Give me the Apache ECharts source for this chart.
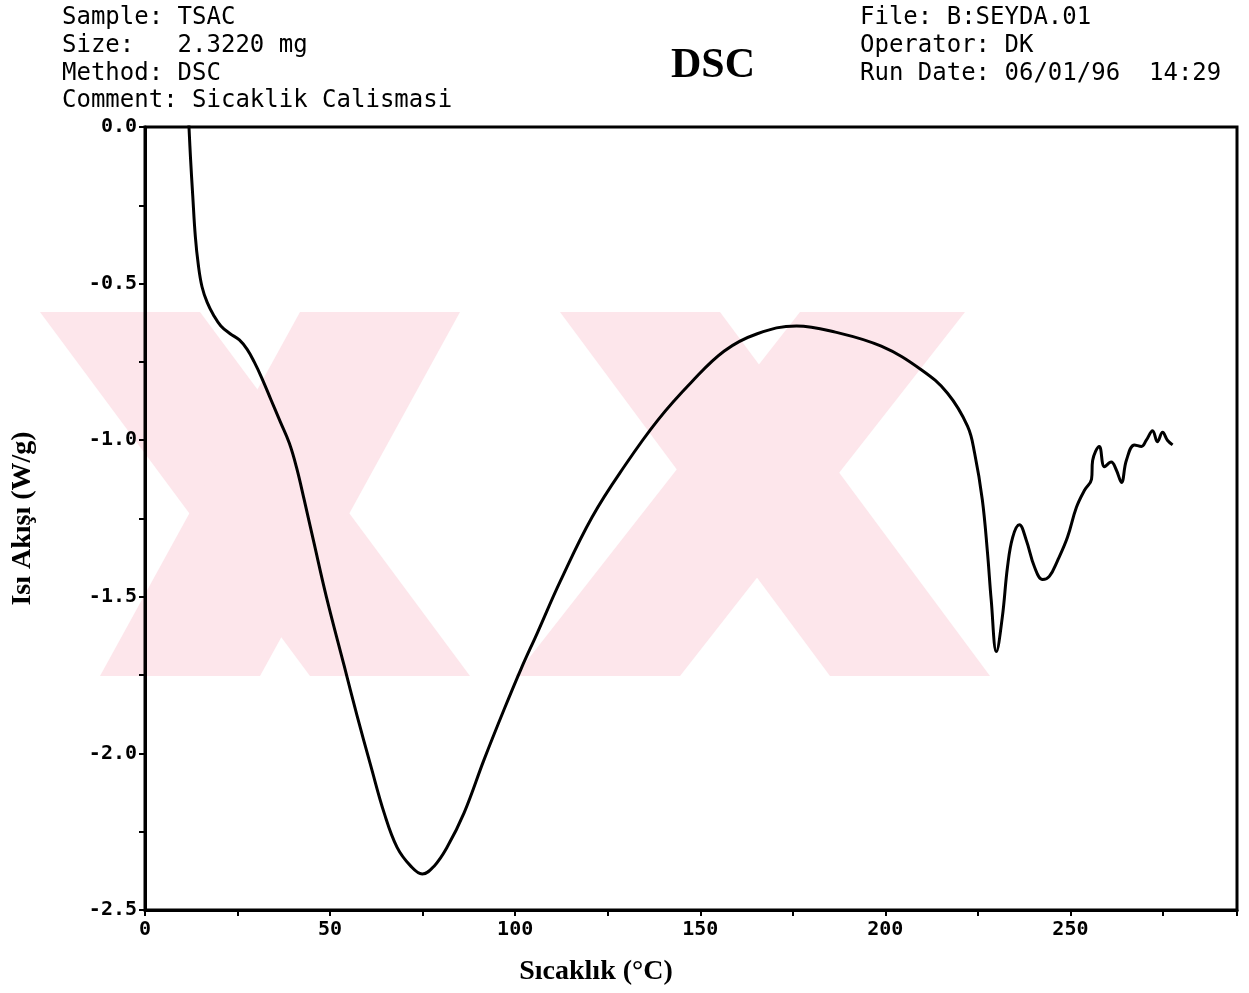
<!DOCTYPE html>
<html>
<head>
<meta charset="utf-8">
<script src="https://cdn.jsdelivr.net/npm/echarts@6/dist/echarts.min.js"></script>
<style>
  html, body { margin: 0; padding: 0; background: #ffffff; }
  #chart { width: 1249px; height: 993px; }
</style>
</head>
<body>
<div id="chart"></div>
<script>
// DSC thermogram: heat flow against temperature
const temperature = [
  11.8, 12.3, 12.9, 13.6, 14.4, 15.4, 16.8, 18.5, 20.5, 23.0, 25.5, 27.6, 29.5,
  31.5, 34.0, 36.5, 39.0, 41.0, 43.0, 45.5, 49.0, 53.8, 57.3, 61.0, 64.6, 68.1,
  71.8, 74.9, 78.1, 81.6, 86.2, 91.6, 97.0, 101.6, 106.0, 112.2, 120.8, 129.7,
  138.6, 147.6, 156.5, 165.4, 176.0, 186.5, 198.9, 209.7, 216.8, 222.2, 224.1,
  226.2, 227.6, 228.6, 230.0, 231.6, 233.0, 234.4, 236.2, 238.1, 240.3, 242.5,
  244.3, 246.5, 249.2, 251.6, 253.8, 255.7, 256.0, 257.8, 259.2, 261.0, 262.4,
  263.8, 265.1, 267.3, 269.2, 270.5, 272.2, 273.5, 274.9, 276.2, 277.6
];
const heatFlow = [
  0.02, -0.10, -0.22, -0.35, -0.44, -0.51, -0.56, -0.60, -0.635, -0.66, -0.68, -0.71, -0.75,
  -0.80, -0.87, -0.94, -1.01, -1.09, -1.19, -1.32, -1.50, -1.72, -1.88, -2.04, -2.19, -2.30,
  -2.36, -2.385, -2.36, -2.30, -2.19, -2.02, -1.86, -1.73, -1.615, -1.45, -1.245, -1.08,
  -0.935, -0.815, -0.715, -0.66, -0.635, -0.655, -0.70, -0.775, -0.85, -0.955, -1.04,
  -1.19, -1.36, -1.51, -1.675, -1.565, -1.405, -1.31, -1.27, -1.32, -1.405, -1.445,
  -1.435, -1.385, -1.31, -1.215, -1.16, -1.125, -1.065, -1.02, -1.085, -1.07, -1.095,
  -1.135, -1.065, -1.015, -1.02, -1.0, -0.97, -1.005, -0.975, -1.0, -1.015
];

// Header block printed by the instrument
const headerLeft = [
  'Sample: TSAC',
  'Size:   2.3220 mg',
  'Method: DSC',
  'Comment: Sicaklik Calismasi'
];
const headerRight = [
  'File: B:SEYDA.01',
  'Operator: DK',
  'Run Date: 06/01/96  14:29'
];

const titleText = 'DSC';
const xAxisTitle = 'Sıcaklık (°C)';
const yAxisTitle = 'Isı Akışı (W/g)';

const monoFont = '"DejaVu Sans Mono", "Liberation Mono", monospace';
const serifFont = '"Liberation Serif", "DejaVu Serif", serif';

// Pale background emblem made of diagonal bands
const pink = '#fde6eb';
const emblem = [
  [[40, 312], [200, 312], [470, 676], [310, 676]],
  [[300, 312], [460, 312], [260, 676], [100, 676]],
  [[560, 312], [720, 312], [990, 676], [830, 676]],
  [[800, 312], [965, 312], [680, 676], [515, 676]]
];

const seriesData = temperature.map((t, i) => [t, heatFlow[i]]);

const graphics = [];
emblem.forEach(p => graphics.push({
  type: 'polygon', z: -100, silent: true,
  shape: { points: p },
  style: { fill: pink }
}));
headerLeft.forEach((s, i) => graphics.push({
  type: 'text', left: 62, top: 6 + i * 27.7,
  style: { text: s, font: '24px ' + monoFont, fill: '#000' }
}));
headerRight.forEach((s, i) => graphics.push({
  type: 'text', left: 860, top: 6 + i * 27.7,
  style: { text: s, font: '24px ' + monoFont, fill: '#000' }
}));
graphics.push({
  type: 'text', x: 713, y: 66,
  style: { text: titleText, font: 'bold 42px ' + serifFont, fill: '#000', textAlign: 'center', textVerticalAlign: 'middle' }
});
graphics.push({
  type: 'text', x: 596, y: 972,
  style: { text: xAxisTitle, font: 'bold 28px ' + serifFont, fill: '#000', textAlign: 'center', textVerticalAlign: 'middle' }
});

const chart = echarts.init(document.getElementById('chart'), null, { renderer: 'canvas' });
chart.setOption({
  backgroundColor: '#ffffff',
  animation: false,
  grid: {
    left: 145, right: 12, top: 127, bottom: 83,
    show: true, borderColor: '#000', borderWidth: 3, backgroundColor: 'transparent'
  },
  xAxis: {
    type: 'value', min: 0, max: 295, interval: 25,
    axisLine: { show: true, onZero: false, lineStyle: { color: '#000', width: 3 } },
    axisTick: { show: true, inside: false, length: 6, lineStyle: { color: '#000', width: 2 } },
    splitLine: { show: false },
    axisLabel: {
      margin: 10,
      color: '#000', fontFamily: monoFont, fontSize: 20, fontWeight: 'bold',
      formatter: v => (Math.round(v) % 50 === 0 ? String(Math.round(v)) : '')
    }
  },
  yAxis: {
    type: 'value', min: -2.5, max: 0, interval: 0.25,
    name: yAxisTitle, nameLocation: 'middle', nameGap: 108, nameRotate: 90,
    nameTextStyle: { fontFamily: serifFont, fontWeight: 'bold', fontSize: 28, color: '#000' },
    axisLine: { show: true, onZero: false, lineStyle: { color: '#000', width: 3 } },
    axisTick: { show: true, inside: false, length: 6, lineStyle: { color: '#000', width: 2 } },
    splitLine: { show: false },
    axisLabel: {
      margin: 8,
      color: '#000', fontFamily: monoFont, fontSize: 20, fontWeight: 'bold',
      formatter: v => {
        const twice = v * 2;
        if (Math.abs(twice - Math.round(twice)) > 1e-6) return '';
        return Math.abs(v) < 1e-9 ? '0.0' : v.toFixed(1);
      }
    }
  },
  graphic: graphics,
  series: [{
    type: 'line',
    data: seriesData,
    showSymbol: false,
    smooth: 0.4,
    clip: true,
    lineStyle: { color: '#000', width: 3 },
    z: 5
  }]
});
</script>
</body>
</html>
